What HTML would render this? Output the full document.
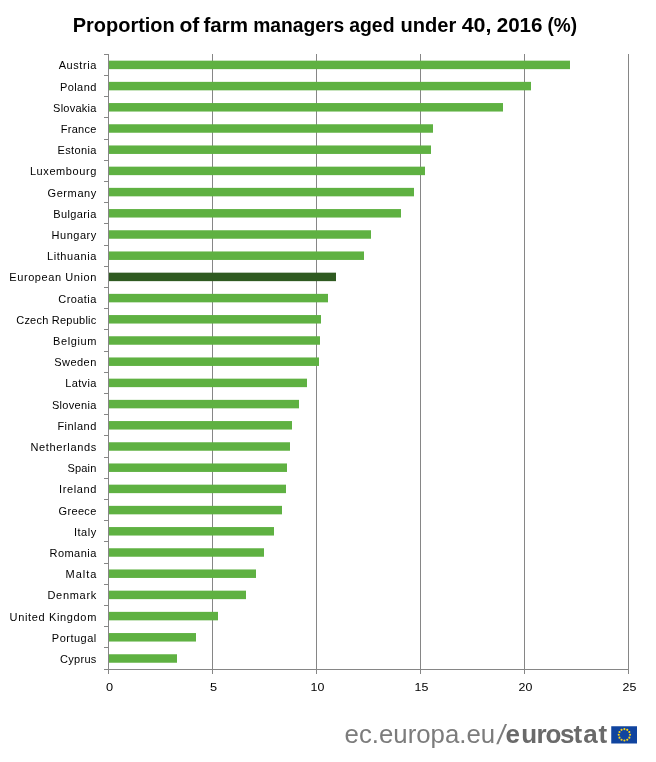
<!DOCTYPE html>
<html lang="en"><head><meta charset="utf-8"><title>Proportion of farm managers aged under 40, 2016 (%)</title>
<style>html,body{margin:0;padding:0;background:#fff}body{width:656px;height:762px;overflow:hidden}svg{display:block}text{font-family:"Liberation Sans",sans-serif}.t{font-weight:bold;font-size:19.6px;fill:#000}.l{font-size:11px;fill:#000;text-anchor:end}.x{font-size:11px;fill:#000;text-anchor:middle}.f{font-size:26px;fill:#7c7c7c}</style></head><body>
<svg width="656" height="762" viewBox="0 0 656 762">
<rect width="656" height="762" fill="#fff"/>
<text class="t" y="32.3"><tspan x="72.70" textLength="102.10" lengthAdjust="spacingAndGlyphs">Proportion</tspan> <tspan x="179.45" textLength="19.85" lengthAdjust="spacingAndGlyphs">of</tspan> <tspan x="203.45" textLength="44.60" lengthAdjust="spacingAndGlyphs">farm</tspan> <tspan x="253.20" textLength="91.10" lengthAdjust="spacingAndGlyphs">managers</tspan> <tspan x="349.20" textLength="45.35" lengthAdjust="spacingAndGlyphs">aged</tspan> <tspan x="400.45" textLength="55.85" lengthAdjust="spacingAndGlyphs">under</tspan> <tspan x="461.70" textLength="29.85" lengthAdjust="spacingAndGlyphs">40,</tspan> <tspan x="496.70" textLength="45.85" lengthAdjust="spacingAndGlyphs">2016</tspan> <tspan x="547.45" textLength="29.60" lengthAdjust="spacingAndGlyphs">(%)</tspan></text>
<path d="M212.5 54V674 M316.5 54V674 M420.5 54V674 M524.5 54V674 M628.5 54V674" stroke="#868686" stroke-width="1" fill="none"/>
<rect x="109" y="60.66" width="461" height="8.48" fill="#5fb142"/>
<rect x="109" y="81.86" width="422" height="8.48" fill="#5fb142"/>
<rect x="109" y="103.06" width="394" height="8.48" fill="#5fb142"/>
<rect x="109" y="124.26" width="324" height="8.48" fill="#5fb142"/>
<rect x="109" y="145.46" width="322" height="8.48" fill="#5fb142"/>
<rect x="109" y="166.66" width="316" height="8.48" fill="#5fb142"/>
<rect x="109" y="187.86" width="305" height="8.48" fill="#5fb142"/>
<rect x="109" y="209.06" width="292" height="8.48" fill="#5fb142"/>
<rect x="109" y="230.26" width="262" height="8.48" fill="#5fb142"/>
<rect x="109" y="251.46" width="255" height="8.48" fill="#5fb142"/>
<rect x="109" y="272.66" width="227" height="8.48" fill="#2f5a21"/>
<rect x="109" y="293.86" width="219" height="8.48" fill="#5fb142"/>
<rect x="109" y="315.06" width="212" height="8.48" fill="#5fb142"/>
<rect x="109" y="336.26" width="211" height="8.48" fill="#5fb142"/>
<rect x="109" y="357.46" width="210" height="8.48" fill="#5fb142"/>
<rect x="109" y="378.66" width="198" height="8.48" fill="#5fb142"/>
<rect x="109" y="399.86" width="190" height="8.48" fill="#5fb142"/>
<rect x="109" y="421.06" width="183" height="8.48" fill="#5fb142"/>
<rect x="109" y="442.26" width="181" height="8.48" fill="#5fb142"/>
<rect x="109" y="463.46" width="178" height="8.48" fill="#5fb142"/>
<rect x="109" y="484.66" width="177" height="8.48" fill="#5fb142"/>
<rect x="109" y="505.86" width="173" height="8.48" fill="#5fb142"/>
<rect x="109" y="527.06" width="165" height="8.48" fill="#5fb142"/>
<rect x="109" y="548.26" width="155" height="8.48" fill="#5fb142"/>
<rect x="109" y="569.46" width="147" height="8.48" fill="#5fb142"/>
<rect x="109" y="590.66" width="137" height="8.48" fill="#5fb142"/>
<rect x="109" y="611.86" width="109" height="8.48" fill="#5fb142"/>
<rect x="109" y="633.06" width="87" height="8.48" fill="#5fb142"/>
<rect x="109" y="654.26" width="68" height="8.48" fill="#5fb142"/>
<path d="M108.5 54V674 M108 669.5H629 M104 54.5H109 M104 75.5H109 M104 96.5H109 M104 117.5H109 M104 139.5H109 M104 160.5H109 M104 181.5H109 M104 202.5H109 M104 223.5H109 M104 245.5H109 M104 266.5H109 M104 287.5H109 M104 308.5H109 M104 329.5H109 M104 351.5H109 M104 372.5H109 M104 393.5H109 M104 414.5H109 M104 435.5H109 M104 457.5H109 M104 478.5H109 M104 499.5H109 M104 520.5H109 M104 541.5H109 M104 563.5H109 M104 584.5H109 M104 605.5H109 M104 626.5H109 M104 647.5H109 M104 669.5H109" stroke="#868686" stroke-width="1" fill="none"/>
<text class="l" x="96.3" y="69.40" textLength="37.6" lengthAdjust="spacing">Austria</text>
<text class="l" x="96.3" y="90.60" textLength="36.4" lengthAdjust="spacing">Poland</text>
<text class="l" x="96.3" y="111.80" textLength="43.2" lengthAdjust="spacing">Slovakia</text>
<text class="l" x="96.3" y="133.00" textLength="35.5" lengthAdjust="spacing">France</text>
<text class="l" x="96.3" y="154.20" textLength="38.7" lengthAdjust="spacing">Estonia</text>
<text class="l" x="96.3" y="175.40" textLength="66.4" lengthAdjust="spacing">Luxembourg</text>
<text class="l" x="96.3" y="196.60" textLength="48.8" lengthAdjust="spacing">Germany</text>
<text class="l" x="96.3" y="217.80" textLength="43.1" lengthAdjust="spacing">Bulgaria</text>
<text class="l" x="96.3" y="239.00" textLength="44.8" lengthAdjust="spacing">Hungary</text>
<text class="l" x="96.3" y="260.20" textLength="49.3" lengthAdjust="spacing">Lithuania</text>
<text class="l" x="96.3" y="281.40" textLength="87.0" lengthAdjust="spacing">European Union</text>
<text class="l" x="96.3" y="302.60" textLength="38.0" lengthAdjust="spacing">Croatia</text>
<text class="l" x="96.3" y="323.80" textLength="80.1" lengthAdjust="spacing">Czech Republic</text>
<text class="l" x="96.3" y="345.00" textLength="43.2" lengthAdjust="spacing">Belgium</text>
<text class="l" x="96.3" y="366.20" textLength="42.0" lengthAdjust="spacing">Sweden</text>
<text class="l" x="96.3" y="387.40" textLength="31.1" lengthAdjust="spacing">Latvia</text>
<text class="l" x="96.3" y="408.60" textLength="44.4" lengthAdjust="spacing">Slovenia</text>
<text class="l" x="96.3" y="429.80" textLength="38.9" lengthAdjust="spacing">Finland</text>
<text class="l" x="96.3" y="451.00" textLength="65.9" lengthAdjust="spacing">Netherlands</text>
<text class="l" x="96.3" y="472.20" textLength="28.9" lengthAdjust="spacing">Spain</text>
<text class="l" x="96.3" y="493.40" textLength="37.2" lengthAdjust="spacing">Ireland</text>
<text class="l" x="96.3" y="514.60" textLength="37.7" lengthAdjust="spacing">Greece</text>
<text class="l" x="96.3" y="535.80" textLength="22.4" lengthAdjust="spacing">Italy</text>
<text class="l" x="96.3" y="557.00" textLength="46.8" lengthAdjust="spacing">Romania</text>
<text class="l" x="96.3" y="578.20" textLength="30.8" lengthAdjust="spacing">Malta</text>
<text class="l" x="96.3" y="599.40" textLength="48.9" lengthAdjust="spacing">Denmark</text>
<text class="l" x="96.3" y="620.60" textLength="86.7" lengthAdjust="spacing">United Kingdom</text>
<text class="l" x="96.3" y="641.80" textLength="44.5" lengthAdjust="spacing">Portugal</text>
<text class="l" x="96.3" y="663.00" textLength="36.3" lengthAdjust="spacing">Cyprus</text>
<text class="x" x="109.5" y="691" textLength="7.1" lengthAdjust="spacingAndGlyphs">0</text>
<text class="x" x="213.5" y="691" textLength="7.1" lengthAdjust="spacingAndGlyphs">5</text>
<text class="x" x="317.5" y="691" textLength="13.8" lengthAdjust="spacingAndGlyphs">10</text>
<text class="x" x="421.5" y="691" textLength="13.8" lengthAdjust="spacingAndGlyphs">15</text>
<text class="x" x="525.5" y="691" textLength="13.8" lengthAdjust="spacingAndGlyphs">20</text>
<text class="x" x="629.5" y="691" textLength="13.8" lengthAdjust="spacingAndGlyphs">25</text>
<text class="f" y="742.5"><tspan x="344.6" textLength="150.5" lengthAdjust="spacingAndGlyphs">ec.europa.eu</tspan><tspan x="505.6 521.2 536.4 545.4 560.1 573.6 583.3 598.6" font-weight="bold" fill="#6a6a6a">eurostat</tspan></text>
<text class="f" transform="translate(496.2,744) skewX(-9)" style="font-size:27.5px" fill="#868686">/</text>
<rect x="611.25" y="726.25" width="25.75" height="17.25" fill="#10449f"/>
<g fill="#ffd617"><circle cx="624.40" cy="729.10" r="1.05"/><circle cx="627.25" cy="729.86" r="1.05"/><circle cx="629.34" cy="731.95" r="1.05"/><circle cx="630.10" cy="734.80" r="1.05"/><circle cx="629.34" cy="737.65" r="1.05"/><circle cx="627.25" cy="739.74" r="1.05"/><circle cx="624.40" cy="740.50" r="1.05"/><circle cx="621.55" cy="739.74" r="1.05"/><circle cx="619.46" cy="737.65" r="1.05"/><circle cx="618.70" cy="734.80" r="1.05"/><circle cx="619.46" cy="731.95" r="1.05"/><circle cx="621.55" cy="729.86" r="1.05"/></g>
</svg></body></html>
